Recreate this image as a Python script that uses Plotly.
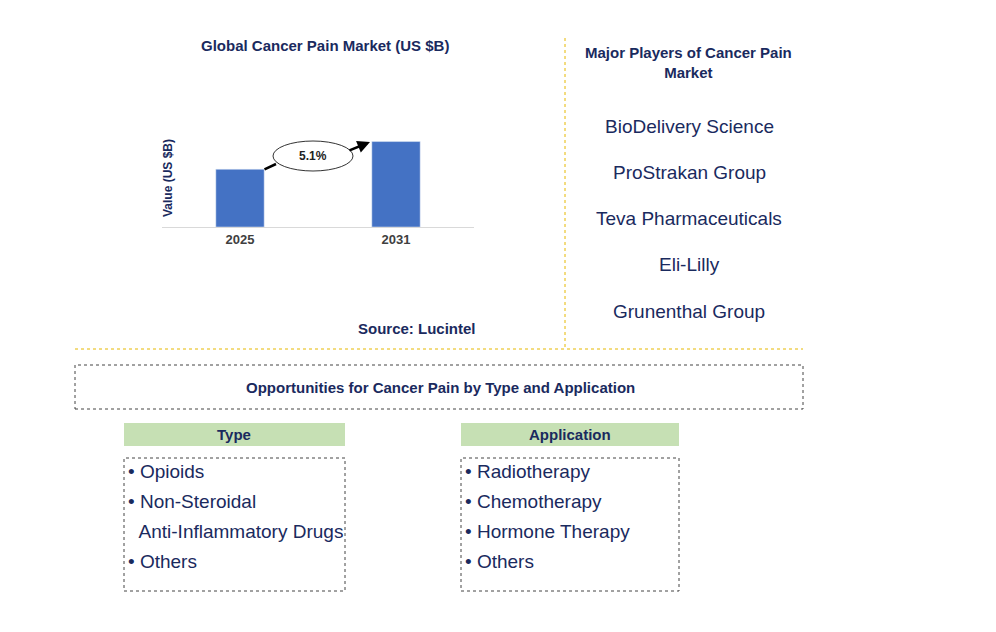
import plotly.graph_objects as go

years = ["2025", "2031"]
values = [1.0, 1.48]
cagr = "5.1%"
players = ["BioDelivery Science", "ProStrakan Group", "Teva Pharmaceuticals", "Eli-Lilly", "Grunenthal Group"]
types = ["• Opioids", "• Non-Steroidal", "  Anti-Inflammatory Drugs", "• Others"]
apps = ["• Radiotherapy", "• Chemotherapy", "• Hormone Therapy", "• Others"]

W, H = 996, 632
NAVY = "#1a2a5e"
OX, OY = 8, 8
def px(x): return (x - OX) / W
def py(y): return 1 - (y - OY) / H

fig = go.Figure(go.Bar(x=years, y=values, marker_color="#4472c4", width=0.31))
fig.update_layout(
    width=W, height=H, margin=dict(l=0, r=0, t=0, b=0),
    paper_bgcolor="white", plot_bgcolor="white", showlegend=False,
    font=dict(family="Liberation Sans, Arial", color=NAVY),
    xaxis=dict(domain=[px(162), px(474)], showline=True, linecolor="#d9d9d9",
               tickfont=dict(size=13, color="#404040", family="Liberation Sans"), ticks="",
               tickprefix="<b>", ticksuffix="</b>"),
    yaxis=dict(domain=[py(227), py(100)], range=[0, 2.2], showticklabels=False,
               showgrid=False, zeroline=False),
)
ann = []
def T(x, y, s, size=18, bold=False, xanchor="center", color=NAVY, **kw):
    ann.append(dict(x=px(x), y=py(y), xref="paper", yref="paper", showarrow=False,
                    text=f"<b>{s}</b>" if bold else s, font=dict(size=size, color=color),
                    xanchor=xanchor, yanchor="middle", **kw))
T(325, 46, "Global Cancer Pain Market (US $B)", 15, True)
T(168, 178, "Value (US $B)", 12, True, textangle=-90)
T(417, 328, "Source: Lucintel", 15, True)
T(688, 62, "Major Players of Cancer Pain<br>Market", 15, True)
for i, p in enumerate(players):
    T(689, 126 + i * 46.3, p, 19)
T(440, 387, "Opportunities for Cancer Pain by Type and Application", 15, True)
T(234, 434, "Type", 15, True)
T(570, 434, "Application", 15, True)
for i, s in enumerate(types):
    T(126, 471 + i * 30, s.replace(" ", "&nbsp;", 2) if s.startswith(" ") else s, 19, xanchor="left")
for i, s in enumerate(apps):
    T(463, 471 + i * 30, s, 19, xanchor="left")
# connector from bar 1 to ellipse, then arrow from ellipse to bar 2
ann.append(dict(x=px(276), y=py(164), ax=-13, ay=6, xref="paper", yref="paper",
                showarrow=True, arrowhead=0, arrowwidth=2.5, arrowcolor="black", text=""))
ann.append(dict(x=px(370), y=py(142), ax=-22, ay=9, xref="paper", yref="paper",
                showarrow=True, arrowhead=2, arrowsize=1,
                arrowwidth=2.5, arrowcolor="black", text=""))
T(313, 156, cagr, 12, True, color="#222")
fig.update_layout(annotations=ann)

shapes = [
    dict(type="circle", x0=px(273), x1=px(353), y0=py(171), y1=py(141), xref="paper", yref="paper",
         fillcolor="white", line=dict(color="#333", width=1), layer="above"),
    dict(type="line", x0=px(565), x1=px(565), y0=py(38), y1=py(348), xref="paper", yref="paper",
         line=dict(color="#e6b800", width=1, dash="dot")),
    dict(type="line", x0=px(75), x1=px(803), y0=py(349), y1=py(349), xref="paper", yref="paper",
         line=dict(color="#e6b800", width=1, dash="dot")),
    dict(type="rect", x0=px(75), x1=px(803), y0=py(409), y1=py(365), xref="paper", yref="paper",
         line=dict(color="#444", width=1, dash="dot")),
    dict(type="rect", x0=px(124), x1=px(345), y0=py(446), y1=py(423), xref="paper", yref="paper",
         fillcolor="#c6e0b4", line=dict(width=0), layer="below"),
    dict(type="rect", x0=px(461), x1=px(679), y0=py(446), y1=py(423), xref="paper", yref="paper",
         fillcolor="#c6e0b4", line=dict(width=0), layer="below"),
    dict(type="rect", x0=px(124), x1=px(345), y0=py(591), y1=py(458), xref="paper", yref="paper",
         line=dict(color="#444", width=1, dash="dot")),
    dict(type="rect", x0=px(461), x1=px(679), y0=py(591), y1=py(458), xref="paper", yref="paper",
         line=dict(color="#444", width=1, dash="dot")),
]
fig.update_layout(shapes=shapes)
fig.write_html("out.html")
